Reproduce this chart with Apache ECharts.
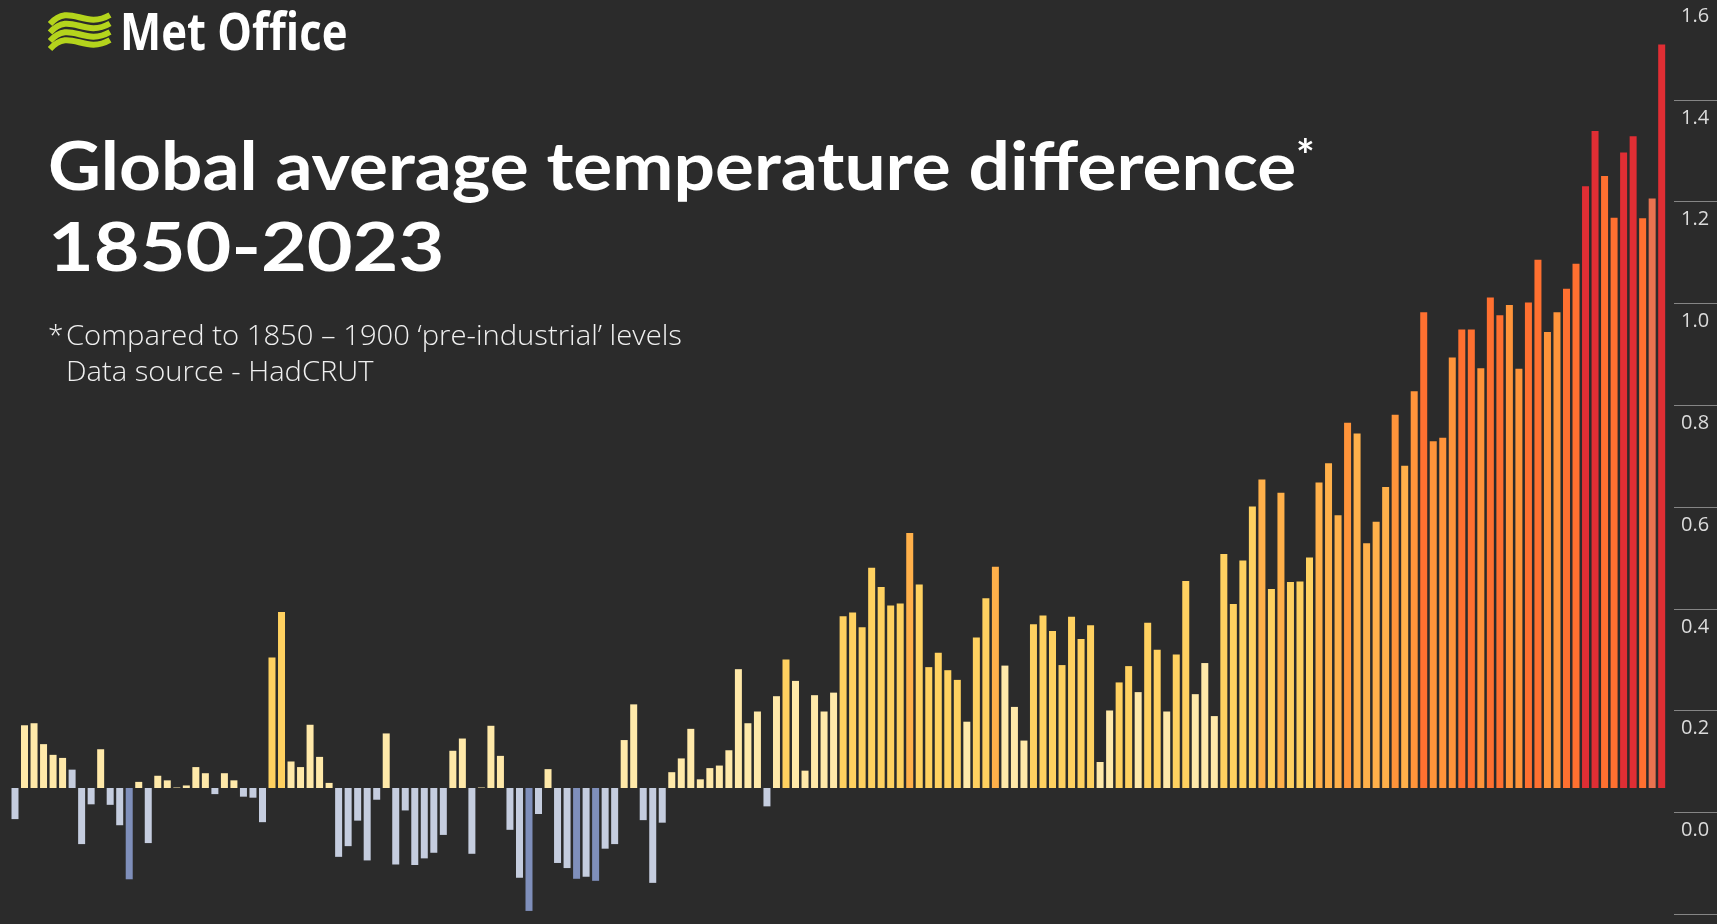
<!DOCTYPE html>
<html>
<head>
<meta charset="utf-8">
<title>Global average temperature difference</title>
<script src="https://cdn.jsdelivr.net/npm/echarts@6/dist/echarts.min.js"></script>
<style>
	html, body { margin: 0; padding: 0; background: #2b2b2b; }
	#main { width: 1717px; height: 924px; }
</style>
</head>
<body>
<div id="main"></div>
<script>
	const years = [];
	for (let y = 1850; y <= 2023; y++) years.push(String(y));

	// degrees C against 1850-1900
	const anomaly = [
		-.061, .123, .127, .086, .065, .059, .036, -.110, -.032, .076,
		-.033, -.073, -.179, .012, -.108, .024, .015, .001, .005, .041,
		.029, -.012, .029, .015, -.017, -.019, -.067, .256, .345, .052,
		.041, .124, .061, .010, -.135, -.114, -.064, -.142, -.023, .107,
		-.150, -.044, -.151, -.138, -.127, -.092, .073, .097, -.129, .001,
		.122, .063, -.082, -.176, -.241, -.051, .037, -.147, -.157, -.178,
		-.174, -.182, -.119, -.110, .094, .164, -.063, -.186, -.068, .031,
		.058, .116, .017, .039, .044, .074, .233, .127, .150, -.036,
		.180, .252, .210, .034, .182, .150, .187, .337, .344, .315,
		.432, .394, .358, .362, .500, .399, .237, .265, .231, .212,
		.130, .295, .372, .434, .240, .159, .093, .321, .338, .308,
		.241, .336, .292, .319, .051, .152, .207, .239, .188, .324,
		.271, .150, .262, .406, .184, .245, .141, .459, .361, .446,
		.552, .605, .390, .579, .404, .405, .452, .599, .637, .535,
		.716, .695, .480, .522, .590, .732, .632, .778, .933, .680,
		.687, .844, .899, .899, .823, .962, .927, .947, .822, .952,
		1.036, .894, .933, .979, 1.028, 1.180, 1.288, 1.200, 1.118, 1.246,
		1.278, 1.117, 1.156, 1.458
	];

	// colour class of each year, index into the palette below
	const colourClass = [
		1, 2, 2, 2, 2, 2, 1, 1, 1, 2,
		1, 1, 0, 2, 1, 2, 2, 2, 2, 2,
		2, 1, 2, 2, 1, 1, 1, 3, 3, 2,
		2, 2, 2, 2, 1, 1, 1, 1, 1, 2,
		1, 1, 1, 1, 1, 1, 2, 2, 1, 2,
		2, 2, 1, 1, 0, 1, 2, 1, 1, 0,
		1, 0, 1, 1, 2, 2, 1, 1, 1, 2,
		2, 2, 2, 2, 2, 2, 2, 2, 2, 1,
		2, 3, 2, 2, 2, 2, 2, 3, 3, 3,
		3, 3, 3, 3, 4, 3, 3, 3, 3, 3,
		2, 3, 3, 4, 2, 2, 2, 3, 3, 3,
		3, 3, 3, 3, 2, 2, 3, 3, 2, 3,
		3, 2, 3, 3, 2, 2, 2, 3, 3, 3,
		3, 4, 3, 4, 3, 3, 3, 4, 4, 4,
		5, 4, 4, 4, 4, 5, 4, 5, 6, 5,
		5, 5, 6, 6, 5, 6, 6, 5, 5, 6,
		6, 5, 5, 6, 6, 7, 7, 6, 6, 7,
		7, 6, 8, 7
	];

	const palette = ['#7f8fbb', '#c5cddf', '#ffe9a9', '#ffd160', '#ffb04a', '#ff943a', '#ff7030', '#e02e34', '#e87350'];

	const titleFont = 'Lato';
	const textFont = '"Open Sans"';
	const waveOffsets = [0, 8.5, 17, 25];

	const chart = echarts.init(document.getElementById('main'));

	const option = {
		backgroundColor: '#2b2b2b',
		animation: false,
		grid: [
			// bars, v6 would squeeze these into the canvas without outerBoundsMode
			{ left: 10.24, width: 1656.2, top: -28, height: 969, outerBoundsMode: 'none' },
			// scale on the right
			{ left: 1674, right: 0, top: -2, height: 916.3, outerBoundsMode: 'none' }
		],
		xAxis: [
			{ type: 'category', gridIndex: 0, data: years, show: false },
			{ type: 'value', gridIndex: 1, show: false }
		],
		yAxis: [
			{ type: 'value', gridIndex: 0, min: -0.3, max: 1.6, show: false },
			{
				type: 'value',
				gridIndex: 1,
				min: -0.2,
				max: 1.6,
				interval: 0.2,
				axisLine: { show: false },
				axisTick: { show: false },
				splitLine: { show: true, lineStyle: { color: '#858585', width: 1 } },
				axisLabel: {
					inside: true,
					margin: 7,
					align: 'left',
					verticalAlign: 'top',
					padding: [8, 0, 0, 0],
					showMinLabel: false,
					color: '#dcdcdc',
					fontFamily: 'Open Sans',
					fontSize: 20,
					formatter: v => v.toFixed(1)
				}
			}
		],
		series: [{
			type: 'bar',
			xAxisIndex: 0,
			yAxisIndex: 0,
			barWidth: 7,
			data: anomaly.map((v, i) => ({
				value: v,
				itemStyle: { color: palette[colourClass[i]] }
			}))
		}],
		graphic: [
			...waveOffsets.map(dy => ({
				type: 'bezierCurve',
				shape: { x1: 50, y1: 24, cpx1: 70, cpy1: 2, cpx2: 84, cpy2: 30, x2: 110, y2: 15 },
				y: dy,
				style: { fill: null, stroke: '#b4d41c', lineWidth: 6 }
			})),
			{
				type: 'text', x: 120, y: 35, scaleX: 0.84,
				style: { text: 'Met Office', fill: '#fff', font: '700 52px ' + textFont, verticalAlign: 'middle' }
			},
			{
				type: 'text', x: 48, y: 168, scaleX: 1.09,
				style: { text: 'Global average temperature difference', fill: '#fff', font: '700 67px ' + titleFont, verticalAlign: 'middle' }
			},
			{
				type: 'text', x: 1296, y: 157,
				style: { text: '*', fill: '#fff', font: '700 44px ' + titleFont, verticalAlign: 'middle' }
			},
			{
				type: 'text', x: 48, y: 249, scaleX: 1.18,
				style: { text: '1850-2023', fill: '#fff', font: '700 67px ' + titleFont, verticalAlign: 'middle' }
			},
			{
				type: 'text', x: 48, y: 337,
				style: { text: '*', fill: '#f0f0f0', font: '300 28px ' + textFont, verticalAlign: 'middle' }
			},
			{
				type: 'text', x: 66, y: 337, scaleX: 1.043,
				style: { text: 'Compared to 1850 – 1900 ‘pre-industrial’ levels', fill: '#f0f0f0', font: '300 28px ' + textFont, verticalAlign: 'middle' }
			},
			{
				type: 'text', x: 66, y: 373, scaleX: 1.04,
				style: { text: 'Data source - HadCRUT', fill: '#f0f0f0', font: '300 28px ' + textFont, verticalAlign: 'middle' }
			}
		]
	};

	option && chart.setOption(option);
</script>
</body>
</html>
